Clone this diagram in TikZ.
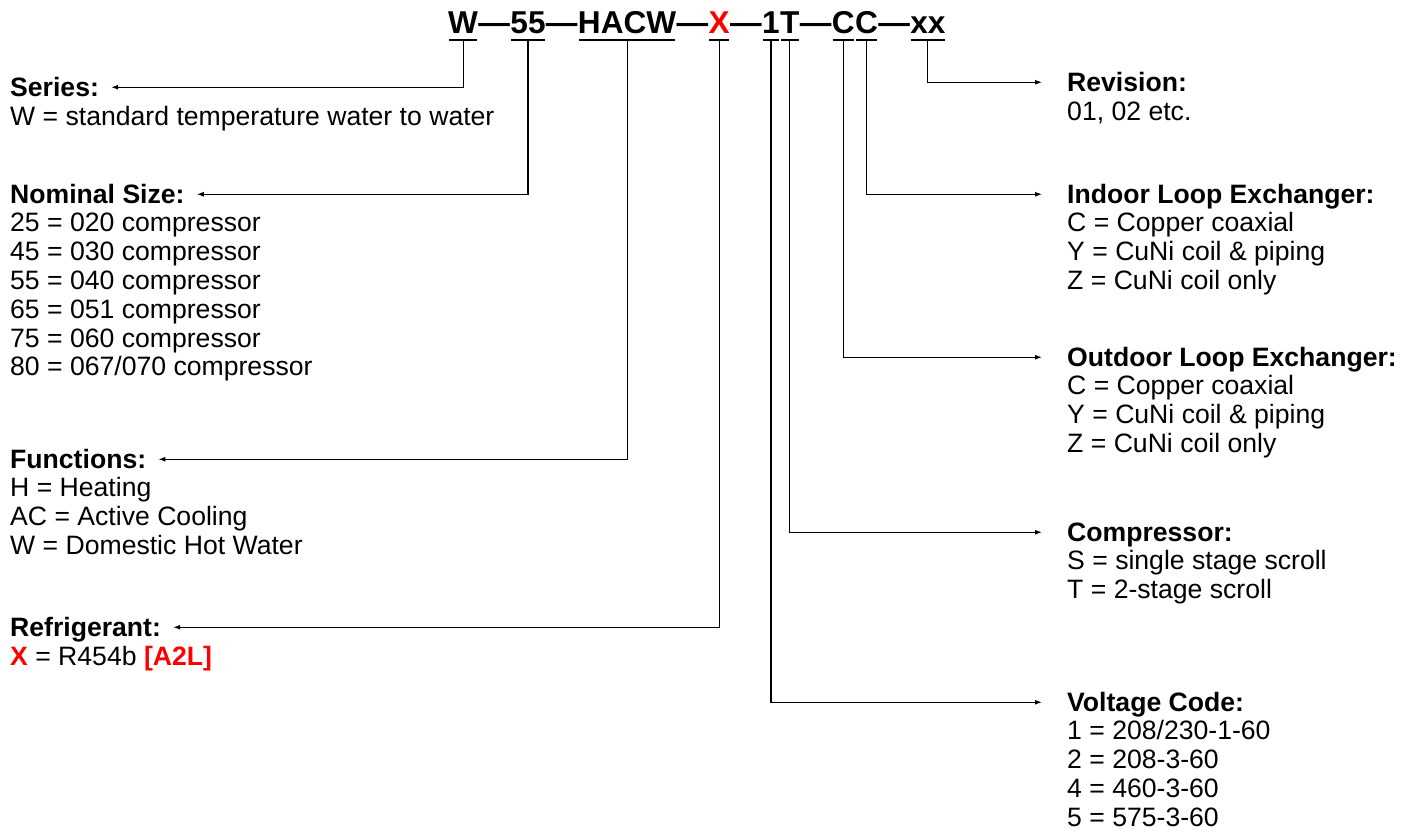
\documentclass[tikz,border=0pt]{standalone}
\usepackage{fontspec}
\setmainfont{Liberation Sans}
\usetikzlibrary{positioning,arrows.meta}

\begin{document}
\begin{tikzpicture}[x=1pt,y=-1pt,
    codepart/.style={font=\fontsize{31.6}{32}\selectfont\bfseries,inner sep=0pt},
    caption/.style={font=\fontsize{26.6}{29}\selectfont\bfseries,inner sep=0pt,anchor=base west,text height=17.5pt,text depth=0pt},
    entry/.style={font=\fontsize{26.6}{29}\selectfont,inner sep=0pt,anchor=base west},
    uline/.style={line width=1.2pt},
    pointer/.style={line width=1.2pt,-{Latex[length=7pt,width=5pt]}}]
    \useasboundingbox[fill=white] (0,0) rectangle (1413,835);

    % model code
    \node[codepart,anchor=base west] (w) at (448,33) {W};
    \node[codepart,base right=0pt of w] (d1) {---};
    \node[codepart,base right=0pt of d1] (sz) {55};
    \node[codepart,base right=0pt of sz] (d2) {---};
    \node[codepart,base right=0pt of d2] (fn) {HACW};
    \node[codepart,base right=0pt of fn] (d3) {---};
    \node[codepart,base right=0pt of d3,text=red] (rf) {X};
    \node[codepart,base right=0pt of rf] (d4) {---};
    \node[codepart,base right=0pt of d4] (vc) {1};
    \node[codepart,base right=0pt of vc] (cp) {T};
    \node[codepart,base right=0pt of cp] (d5) {---};
    \node[codepart,base right=0pt of d5] (ol) {C};
    \node[codepart,base right=0pt of ol] (il) {C};
    \node[codepart,base right=0pt of il] (d6) {---};
    \node[codepart,base right=0pt of d6] (rv) {xx};

    \foreach \p in {w,sz,fn,rf,vc,cp,ol,il,rv}
        \draw[uline] ([yshift=-7pt,xshift=1pt]\p.base west) -- ([yshift=-7pt,xshift=-1pt]\p.base east);

    % left side
    \node[caption] (ser) at (10,96) {Series:};
    \node[entry] (ser-1) at (10,125) {W = standard temperature water to water};

    \node[caption] (nom) at (10,203) {Nominal Size:};
    \foreach \t [count=\i] in {25 = 020 compressor,45 = 030 compressor,55 = 040 compressor,
        65 = 051 compressor,75 = 060 compressor,80 = 067/070 compressor}
        \node[entry] (nom-\i) at (10,203+28.8*\i) {\t};

    \node[caption] (fun) at (10,468) {Functions:};
    \foreach \t [count=\i] in {H = Heating,AC = Active Cooling,W = Domestic Hot Water}
        \node[entry] (fun-\i) at (10,468+28.8*\i) {\t};

    \node[caption] (ref) at (10,636) {Refrigerant:};
    \node[entry] (ref-1) at (10,665) {\textcolor{red}{\bfseries X} = R454b \textcolor{red}{\bfseries [A2L]}};

    % right side
    \node[caption] (rev) at (1067,91) {Revision:};
    \node[entry] (rev-1) at (1067,120) {01, 02 etc.};

    \node[caption] (ind) at (1067,203) {Indoor Loop Exchanger:};
    \foreach \t [count=\i] in {C = Copper coaxial,Y = CuNi coil \& piping,Z = CuNi coil only}
        \node[entry] (ind-\i) at (1067,203+28.8*\i) {\t};

    \node[caption] (out) at (1067,366) {Outdoor Loop Exchanger:};
    \foreach \t [count=\i] in {C = Copper coaxial,Y = CuNi coil \& piping,Z = CuNi coil only}
        \node[entry] (out-\i) at (1067,366+28.8*\i) {\t};

    \node[caption] (com) at (1067,541) {Compressor:};
    \foreach \t [count=\i] in {S = single stage scroll,T = 2-stage scroll}
        \node[entry] (com-\i) at (1067,541+28.8*\i) {\t};

    \node[caption] (vol) at (1067,711) {Voltage Code:};
    \foreach \t [count=\i] in {1 = 208/230-1-60,2 = 208-3-60,4 = 460-3-60,5 = 575-3-60}
        \node[entry] (vol-\i) at (1067,711+28.8*\i) {\t};

    % connectors
    \draw[pointer,shorten >=12pt] ([yshift=-7pt]w.base) |- (ser.east);
    \draw[pointer,shorten >=12pt] ([yshift=-7pt]sz.base) |- (nom.east);
    \draw[pointer,shorten >=12pt] ([yshift=-7pt]fn.base) |- (fun.east);
    \draw[pointer,shorten >=12pt] ([yshift=-7pt]rf.base) |- (ref.east);
    \draw[pointer,shorten >=25pt] ([yshift=-7pt]rv.base) |- (rev.west);
    \draw[pointer,shorten >=25pt] ([yshift=-7pt]il.base) |- (ind.west);
    \draw[pointer,shorten >=25pt] ([yshift=-7pt]ol.base) |- (out.west);
    \draw[pointer,shorten >=25pt] ([yshift=-7pt]cp.base) |- (com.west);
    \draw[pointer,shorten >=25pt] ([yshift=-7pt]vc.base) |- (vol.west);
\end{tikzpicture}
\end{document}
